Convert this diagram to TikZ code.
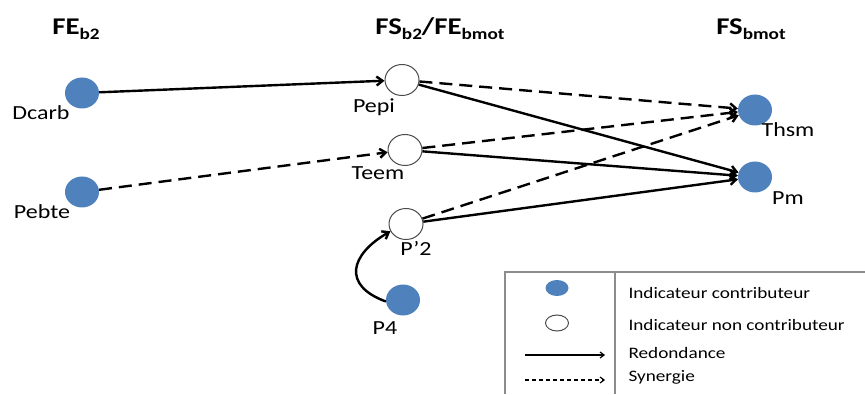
\documentclass[tikz,border=0pt]{standalone}
\usepackage{fontspec}
\setmainfont{Carlito}[FakeStretch=1.2]
\usepackage{tikz}
\usetikzlibrary{arrows.meta,positioning,shapes.geometric}
\usepackage{xcolor}
\definecolor{contrib}{HTML}{4F81BD}
\definecolor{rule}{HTML}{8C8C8C}
\newcommand{\lowsub}[1]{\raisebox{-0.45ex}{\fontsize{16}{16}\selectfont #1}}

\begin{document}
\begin{tikzpicture}[
  x=1pt, y=1pt,
  every node/.style={font=\fontsize{20}{24}\selectfont},
  ind/.style={ellipse, minimum width=34pt, minimum height=31pt, inner sep=0pt},
  ind_on/.style={ind, fill=contrib},
  ind_off/.style={ind, draw=black!70, line width=1pt, fill=white},
  title/.style={font=\fontsize{24}{26}\selectfont\bfseries},
  redond/.style={-{Straight Barb[length=6pt,width=9pt]}, line width=2.4pt},
  synerg/.style={redond, dash pattern=on 13pt off 7pt},
  legtext/.style={anchor=west, font=\fontsize{16}{18}\selectfont}
]
\useasboundingbox (0,0) rectangle (865,394);

% Column titles
\node[title] (t1) at (76,365) {FE\lowsub{b2}};
\node[title] (t2) at (440,365) {FS\lowsub{b2}/FE\lowsub{bmot}};
\node[title] (t3) at (751,365) {FS\lowsub{bmot}};

% Indicators
\node[ind_on]  (dcarb) at (82,301) {};
\node[ind_on]  (pebte) at (82,202) {};
\node[ind_off] (pepi)  at (402,314) {};
\node[ind_off] (teem)  at (405,244) {};
\node[ind_off] (ptwo)  at (406,170) {};
\node[ind_on]  (pfour) at (403,94) {};
\node[ind_on]  (thsm)  at (755,284) {};
\node[ind_on]  (pm)    at (755,217) {};

% Labels
\node (l_dcarb) at (41,281)  {Dcarb};
\node (l_pebte) at (42,182)  {Pebte};
\node (l_pepi)  at (374,287) {Pepi};
\node (l_teem)  at (378,221) {Teem};
\node (l_ptwo)  at (416,146) {P'2};
\node (l_pfour) at (385,66)  {P4};
\node (l_thsm)  at (788,264) {Thsm};
\node (l_pm)    at (788,196) {Pm};

% Links
\draw[redond] (dcarb) -- (pepi);
\draw[synerg] (pebte) -- (teem);
\draw[synerg] (pepi) -- (thsm);
\draw[synerg] (teem) -- (thsm);
\draw[synerg] (ptwo) -- (thsm);
\draw[redond] (pepi) -- (pm);
\draw[redond] (teem) -- (pm);
\draw[redond] (ptwo) -- (pm);
\draw[redond] (pfour.185) to[out=160, in=210, looseness=1.7] (ptwo.205);

% Legend
\draw[rule, line width=2.5pt] (865,122) -- (505,122) -- (505,0);
\draw[rule, line width=2.5pt] (615,122) -- (615,0);
\node[ellipse, fill=contrib, minimum width=23pt, minimum height=16pt, inner sep=0pt] (k_on) at (557,106) {};
\node[ellipse, draw=black!70, line width=1pt, minimum width=23pt, minimum height=16pt, inner sep=0pt] (k_off) at (557,71) {};
\coordinate (k_r1) at (525,39);
\coordinate (k_r2) at (605,39);
\coordinate (k_s1) at (525,14);
\coordinate (k_s2) at (605,14);
\draw[-{Straight Barb[length=4pt,width=6pt]}, line width=1.2pt] (k_r1) -- (k_r2);
\draw[-{Straight Barb[length=4pt,width=6pt]}, line width=1.2pt, dash pattern=on 4pt off 3pt] (k_s1) -- (k_s2);
\node[legtext] (k_t1) at (625,101) {Indicateur contributeur};
\node[legtext] (k_t2) at (625,69)  {Indicateur non contributeur};
\node[legtext] (k_t3) at (625,41)  {Redondance};
\node[legtext] (k_t4) at (625,17)  {Synergie};

\end{tikzpicture}
\end{document}
